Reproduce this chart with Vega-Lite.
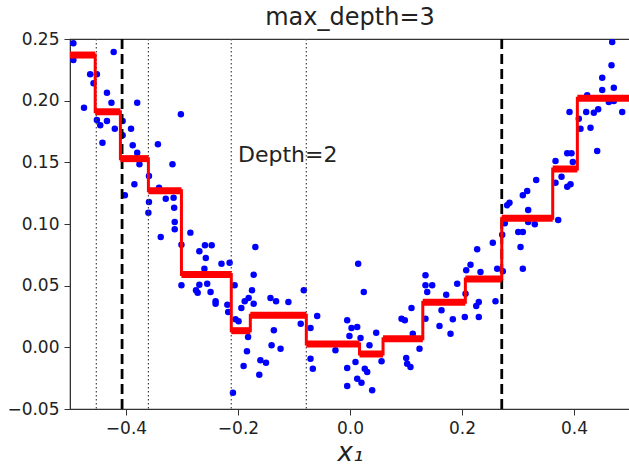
{
  "$schema": "https://vega.github.io/schema/vega-lite/v6.json",
  "width": 560,
  "height": 370,
  "autosize": {"type": "none"},
  "padding": {"left": 70, "top": 39, "right": 0, "bottom": 58},
  "background": "white",
  "title": {"text": "max_depth=3", "fontSize": 24, "font": "DejaVu Sans", "fontWeight": "normal", "color": "#222", "offset": 0},
  "config": {
    "view": {"stroke": "#333", "strokeWidth": 1.2},
    "axis": {"grid": false, "domainColor": "#333", "tickColor": "#333", "tickSize": 6, "labelFont": "DejaVu Sans", "labelFontSize": 17, "labelColor": "#222", "titleFont": "DejaVu Sans", "titleColor": "#222", "labelPadding": 5}
  },
  "datasets": {
    "pts": [
      {"x": -0.494, "y": 0.2465}, {"x": -0.494, "y": 0.233}, {"x": -0.422, "y": 0.2395}, {"x": -0.464, "y": 0.2214},
      {"x": -0.452, "y": 0.2214}, {"x": -0.458, "y": 0.2141}, {"x": -0.475, "y": 0.1943}, {"x": -0.434, "y": 0.2065},
      {"x": -0.426, "y": 0.1984}, {"x": -0.380, "y": 0.1984}, {"x": -0.302, "y": 0.189}, {"x": -0.452, "y": 0.1843},
      {"x": -0.446, "y": 0.18}, {"x": -0.434, "y": 0.1835}, {"x": -0.42, "y": 0.1773}, {"x": -0.406, "y": 0.1835},
      {"x": -0.406, "y": 0.1719}, {"x": -0.391, "y": 0.1773}, {"x": -0.442, "y": 0.1659}, {"x": -0.388, "y": 0.1638},
      {"x": -0.343, "y": 0.1646}, {"x": -0.380, "y": 0.1578}, {"x": -0.376, "y": 0.1484}, {"x": -0.317, "y": 0.1484},
      {"x": -0.359, "y": 0.1389}, {"x": -0.385, "y": 0.1322}, {"x": -0.341, "y": 0.1294}, {"x": -0.402, "y": 0.1233},
      {"x": -0.329, "y": 0.1205}, {"x": -0.315, "y": 0.1213}, {"x": -0.359, "y": 0.1178}, {"x": -0.314, "y": 0.1132},
      {"x": -0.360, "y": 0.1092}, {"x": -0.313, "y": 0.1016}, {"x": -0.338, "y": 0.0895}, {"x": -0.313, "y": 0.0957},
      {"x": -0.285, "y": 0.093}, {"x": -0.301, "y": 0.0832}, {"x": -0.259, "y": 0.0827}, {"x": -0.269, "y": 0.0779},
      {"x": -0.2575, "y": 0.0724}, {"x": -0.260, "y": 0.0638}, {"x": -0.301, "y": 0.0503}, {"x": -0.269, "y": 0.0508},
      {"x": -0.275, "y": 0.0462}, {"x": -0.272, "y": 0.0443}, {"x": -0.247, "y": 0.0827}, {"x": -0.2295, "y": 0.0678},
      {"x": -0.215, "y": 0.0686}, {"x": -0.255, "y": 0.0516}, {"x": -0.249, "y": 0.0449}, {"x": -0.240, "y": 0.0373},
      {"x": -0.240, "y": 0.0354}, {"x": -0.219, "y": 0.0346}, {"x": -0.2175, "y": 0.0287}, {"x": -0.206, "y": 0.0503},
      {"x": -0.169, "y": 0.0814}, {"x": -0.172, "y": 0.0589}, {"x": -0.175, "y": 0.0462}, {"x": -0.181, "y": 0.04},
      {"x": -0.188, "y": 0.0373}, {"x": -0.194, "y": 0.0319}, {"x": -0.172, "y": 0.0354}, {"x": -0.2045, "y": 0.0227},
      {"x": -0.199, "y": 0.0211}, {"x": -0.182, "y": 0.0084}, {"x": -0.184, "y": -0.0032}, {"x": -0.190, "y": -0.0151},
      {"x": -0.162, "y": -0.0222}, {"x": -0.160, "y": -0.0105}, {"x": -0.150, "y": -0.0125}, {"x": -0.142, "y": 0.04},
      {"x": -0.132, "y": 0.0373}, {"x": -0.110, "y": 0.0368}, {"x": -0.136, "y": 0.0138}, {"x": -0.140, "y": 0.0016},
      {"x": -0.124, "y": -0.0011}, {"x": -0.209, "y": -0.0368}, {"x": -0.088, "y": 0.0192}, {"x": -0.0825, "y": 0.0462},
      {"x": -0.0705, "y": 0.0157}, {"x": -0.0586, "y": 0.0254}, {"x": -0.0705, "y": -0.0092}, {"x": -0.0664, "y": -0.0173},
      {"x": -0.026, "y": -0.0024}, {"x": -0.005, "y": -0.0168}, {"x": -0.005, "y": -0.0314}, {"x": 0.0146, "y": 0.0678},
      {"x": 0.0246, "y": 0.0449}, {"x": -0.005, "y": 0.0219}, {"x": 0.0027, "y": 0.0157}, {"x": 0.0129, "y": 0.0165},
      {"x": -0.001, "y": 0.0092}, {"x": 0.0188, "y": 0.0076}, {"x": 0.0468, "y": 0.0119}, {"x": 0.0348, "y": 0.0016},
      {"x": 0.0098, "y": -0.0119}, {"x": 0.0264, "y": -0.0173}, {"x": 0.0307, "y": -0.02}, {"x": 0.0129, "y": -0.0254},
      {"x": 0.0205, "y": -0.0287}, {"x": 0.0396, "y": -0.0348}, {"x": 0.0563, "y": -0.0113}, {"x": 0.092, "y": 0.0232},
      {"x": 0.0979, "y": 0.0219}, {"x": 0.1098, "y": 0.0319}, {"x": 0.1121, "y": 0.0111}, {"x": 0.1241, "y": -0.0011},
      {"x": 0.1004, "y": -0.0086}, {"x": 0.1021, "y": -0.0133}, {"x": 0.108, "y": -0.0159}, {"x": 0.1348, "y": 0.0584},
      {"x": 0.1348, "y": 0.0503}, {"x": 0.1468, "y": 0.0503}, {"x": 0.1379, "y": 0.0449}, {"x": 0.1348, "y": 0.0232},
      {"x": 0.1634, "y": 0.03}, {"x": 0.1718, "y": 0.0427}, {"x": 0.1836, "y": 0.0227}, {"x": 0.1598, "y": 0.0173},
      {"x": 0.1795, "y": 0.0111}, {"x": 0.1914, "y": 0.0516}, {"x": 0.205, "y": 0.0246}, {"x": 0.2063, "y": 0.0435},
      {"x": 0.2075, "y": 0.0625}, {"x": 0.2152, "y": 0.067}, {"x": 0.2271, "y": 0.0795}, {"x": 0.233, "y": 0.0611},
      {"x": 0.23, "y": 0.0368}, {"x": 0.2254, "y": 0.0335}, {"x": 0.23, "y": 0.0246}, {"x": 0.255, "y": 0.0848},
      {"x": 0.2729, "y": 0.0617}, {"x": 0.2629, "y": 0.0638}, {"x": 0.2598, "y": 0.0373}, {"x": 0.2718, "y": 0.0913},
      {"x": 0.3004, "y": 0.0935}, {"x": 0.3086, "y": 0.0935}, {"x": 0.3045, "y": 0.0814}, {"x": 0.3086, "y": 0.0638},
      {"x": 0.4682, "y": 0.2476}, {"x": 0.467, "y": 0.2287}, {"x": 0.4504, "y": 0.2186}, {"x": 0.4504, "y": 0.2087},
      {"x": 0.4711, "y": 0.2105}, {"x": 0.4236, "y": 0.2044}, {"x": 0.4621, "y": 0.1989}, {"x": 0.4711, "y": 0.1997},
      {"x": 0.4861, "y": 0.1908}, {"x": 0.392, "y": 0.1908}, {"x": 0.4218, "y": 0.1908}, {"x": 0.4354, "y": 0.1902},
      {"x": 0.4432, "y": 0.193}, {"x": 0.4086, "y": 0.1854}, {"x": 0.4116, "y": 0.1773}, {"x": 0.4295, "y": 0.1781},
      {"x": 0.4414, "y": 0.1592}, {"x": 0.3879, "y": 0.1573}, {"x": 0.3955, "y": 0.1573}, {"x": 0.3979, "y": 0.1503},
      {"x": 0.367, "y": 0.1511}, {"x": 0.3777, "y": 0.1384}, {"x": 0.3879, "y": 0.1302}, {"x": 0.3938, "y": 0.1322},
      {"x": 0.367, "y": 0.1335}, {"x": 0.3325, "y": 0.1357}, {"x": 0.3086, "y": 0.1233}, {"x": 0.3164, "y": 0.1268},
      {"x": 0.2848, "y": 0.1173}, {"x": 0.2807, "y": 0.1152}, {"x": 0.3182, "y": 0.1114}, {"x": 0.3718, "y": 0.1032},
      {"x": 0.3182, "y": 0.1016}, {"x": 0.33, "y": 0.0998}, {"x": 0.2764, "y": 0.1006}
    ],
    "segs": [
      {"lo": -0.5, "hi": -0.455, "v": 0.237}, {"lo": -0.455, "hi": -0.41, "v": 0.191},
      {"lo": -0.41, "hi": -0.36, "v": 0.153}, {"lo": -0.36, "hi": -0.301, "v": 0.127},
      {"lo": -0.301, "hi": -0.212, "v": 0.059}, {"lo": -0.212, "hi": -0.178, "v": 0.0135},
      {"lo": -0.178, "hi": -0.078, "v": 0.026}, {"lo": -0.078, "hi": 0.017, "v": 0.0027},
      {"lo": 0.017, "hi": 0.059, "v": -0.0054}, {"lo": 0.059, "hi": 0.13, "v": 0.007},
      {"lo": 0.13, "hi": 0.206, "v": 0.0365}, {"lo": 0.206, "hi": 0.271, "v": 0.0554},
      {"lo": 0.271, "hi": 0.362, "v": 0.1046}, {"lo": 0.362, "hi": 0.406, "v": 0.1446},
      {"lo": 0.406, "hi": 0.5, "v": 0.202}
    ],
    "steps": [
      {"x": -0.5, "v": 0.237}, {"x": -0.455, "v": 0.191}, {"x": -0.41, "v": 0.153}, {"x": -0.36, "v": 0.127},
      {"x": -0.301, "v": 0.059}, {"x": -0.212, "v": 0.0135}, {"x": -0.178, "v": 0.026}, {"x": -0.078, "v": 0.0027},
      {"x": 0.017, "v": -0.0054}, {"x": 0.059, "v": 0.007}, {"x": 0.13, "v": 0.0365}, {"x": 0.206, "v": 0.0554},
      {"x": 0.271, "v": 0.1046}, {"x": 0.362, "v": 0.1446}, {"x": 0.406, "v": 0.202}, {"x": 0.5, "v": 0.202}
    ],
    "dashed": [{"x": -0.407}, {"x": 0.271}],
    "dotted": [{"x": -0.453}, {"x": -0.36}, {"x": -0.212}, {"x": -0.078}],
    "notes": [{"x": -0.2, "y": 0.15, "t": "Depth=2"}]
  },
  "layer": [
    {
      "data": {"name": "pts"},
      "mark": {"type": "point", "filled": true, "color": "#0000ff", "opacity": 1, "size": 42, "clip": true},
      "encoding": {
        "x": {"field": "x", "type": "quantitative", "scale": {"domain": [-0.5, 0.5], "nice": false, "zero": false},
              "axis": {"values": [-0.4, -0.2, 0.0, 0.2, 0.4], "format": ".1f", "title": "x₁", "titleFontSize": 26, "titleFontStyle": "italic", "titleFontWeight": "normal", "titlePadding": 3}},
        "y": {"field": "y", "type": "quantitative", "scale": {"domain": [-0.05, 0.25], "nice": false, "zero": false},
              "axis": {"values": [-0.05, 0, 0.05, 0.1, 0.15, 0.2, 0.25], "format": ".2f", "title": null}}
      }
    },
    {
      "data": {"name": "dotted"},
      "mark": {"type": "rule", "color": "#444", "strokeWidth": 1.2, "strokeDash": [1.5, 2.5]},
      "encoding": {"x": {"field": "x", "type": "quantitative"}}
    },
    {
      "data": {"name": "dashed"},
      "mark": {"type": "rule", "color": "black", "strokeWidth": 2.8, "strokeDash": [10, 5]},
      "encoding": {"x": {"field": "x", "type": "quantitative"}}
    },
    {
      "data": {"name": "steps"},
      "mark": {"type": "line", "color": "red", "strokeWidth": 3, "interpolate": "step-after", "clip": true},
      "encoding": {"x": {"field": "x", "type": "quantitative"}, "y": {"field": "v", "type": "quantitative"}}
    },
    {
      "data": {"name": "segs"},
      "mark": {"type": "rule", "color": "red", "strokeWidth": 7, "clip": true},
      "encoding": {"x": {"field": "lo", "type": "quantitative"}, "x2": {"field": "hi"}, "y": {"field": "v", "type": "quantitative"}}
    },
    {
      "data": {"name": "notes"},
      "mark": {"type": "text", "align": "left", "baseline": "alphabetic", "font": "DejaVu Sans", "fontSize": 22, "color": "#222"},
      "encoding": {"x": {"field": "x", "type": "quantitative"}, "y": {"field": "y", "type": "quantitative"}, "text": {"field": "t"}}
    }
  ]
}
